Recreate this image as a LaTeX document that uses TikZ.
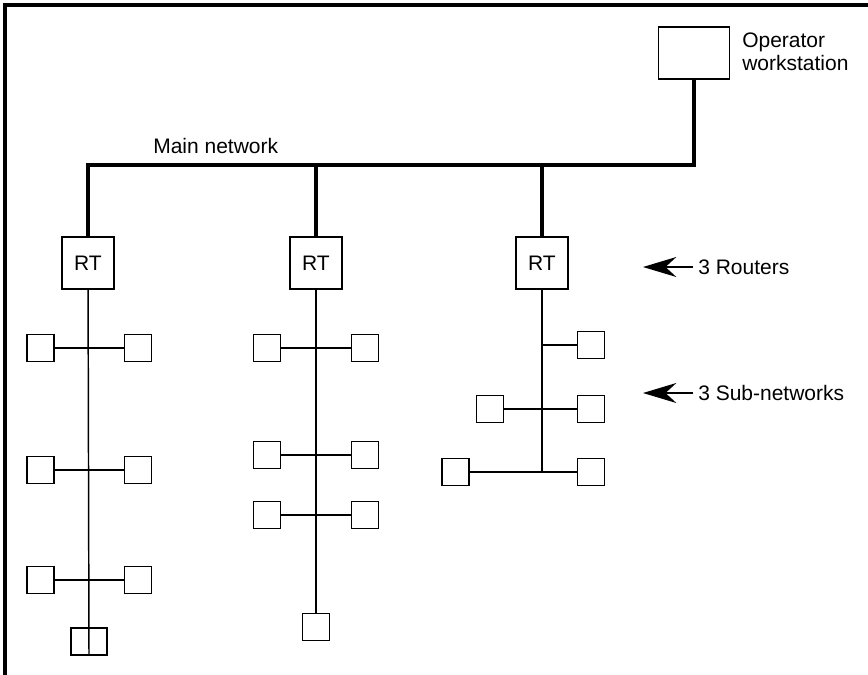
\documentclass[tikz,border=0pt]{standalone}
\usepackage{fontspec}
\setmainfont{Liberation Sans}
\usetikzlibrary{arrows.meta}

\begin{document}
\begin{tikzpicture}[
  x=0.75pt, y=-0.75pt,
  every node/.style={font=\fontsize{15.75}{17.25}\selectfont},
  station/.style={draw,line width=0.9pt,minimum width=53.25pt,minimum height=39pt,inner sep=0pt},
  router/.style={draw,line width=1pt,minimum size=39pt,inner sep=0pt},
  device/.style={draw,line width=1.1pt,minimum size=20.25pt,inner sep=0pt},
  bus/.style={line width=3pt},
  link/.style={line width=1.1pt},
  pointer/.style={line width=1.1pt,-{Stealth[length=25pt,width=15pt]}},
  caption/.style={inner sep=3.75pt}
]
  \useasboundingbox (0,0) rectangle (868,675);
  \draw[bus] (868,5) -- (5,5) -- (5,675);

  \node[station] (ows) at (694,53) {};
  \node[anchor=north west,inner sep=0pt,align=left] (owslabel) at (742,33) {Operator\\workstation};

  \node[router] (rt1) at (88,263) {RT};
  \node[router] (rt2) at (316,263) {RT};
  \node[router] (rt3) at (542,263) {RT};

  % main network
  \coordinate (buse) at (694,165);
  \node[anchor=base west,inner sep=0pt] (buslabel) at (153,153) {Main network};
  \draw[bus] (ows) -- (buse) -- (rt1 |- buse) -- (rt1);
  \draw[bus] (rt2 |- buse) -- (rt2);
  \draw[bus] (rt3 |- buse) -- (rt3);

  % left sub-network
  \node[device] (l1) at (40.5,348) {};
  \node[device] (l2) at (138,348) {};
  \node[device] (l3) at (40.5,470) {};
  \node[device] (l4) at (138,470) {};
  \node[device] (l5) at (40.5,580) {};
  \node[device] (l6) at (138,580) {};
  \node[device,minimum width=27pt] (l7) at (89,641.5) {};
  \draw[link] (rt1) -- (l7.south);
  \draw[link] (l1) -- (l2);
  \draw[link] (l3) -- (l4);
  \draw[link] (l5) -- (l6);

  % middle sub-network
  \node[device] (m1) at (267,348) {};
  \node[device] (m2) at (365,348) {};
  \node[device] (m3) at (267,455) {};
  \node[device] (m4) at (365,455) {};
  \node[device] (m5) at (267,515) {};
  \node[device] (m6) at (365,515) {};
  \node[device] (m7) at (316,627) {};
  \draw[link] (rt2) -- (m7);
  \draw[link] (m1) -- (m2);
  \draw[link] (m3) -- (m4);
  \draw[link] (m5) -- (m6);

  % right sub-network
  \node[device] (r1) at (591,345) {};
  \node[device] (r2) at (490,409) {};
  \node[device] (r3) at (591,409) {};
  \node[device] (r4) at (455.5,472) {};
  \node[device] (r5) at (591,472) {};
  \draw[link] (rt3) -- (rt3 |- r5);
  \draw[link] (rt3 |- r1) -- (r1);
  \draw[link] (r2) -- (r3);
  \draw[link] (r4) -- (r5);

  % legend arrows
  \node[caption,anchor=west] (rtlabel) at (693,267) {3 Routers};
  \node[caption,anchor=west] (sublabel) at (693,393) {3 Sub-networks};
  \coordinate (rttip) at (643,267);
  \coordinate (subtip) at (643,393);
  \draw[pointer] (rtlabel.west) -- (rttip);
  \draw[pointer] (sublabel.west) -- (subtip);
\end{tikzpicture}
\end{document}
